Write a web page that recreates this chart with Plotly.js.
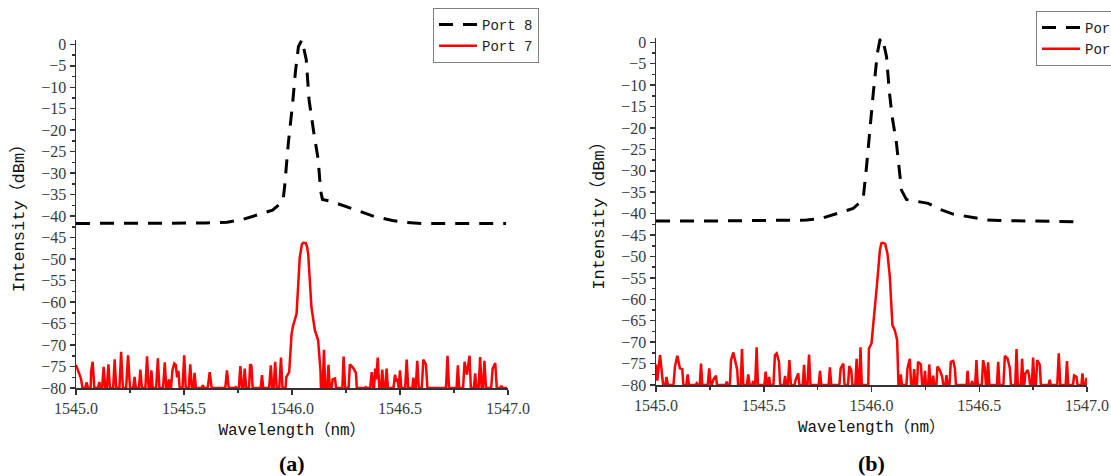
<!DOCTYPE html>
<html>
<head>
<meta charset="utf-8">
<script src="https://cdn.plot.ly/plotly-3.0.1.min.js"></script>
<style>html,body{margin:0;padding:0;background:#fff;overflow:hidden;}#chart{width:1111px;height:476px;}</style>
</head>
<body>
<div id="chart"></div>
<script>
// ---- Data ----
const panelLabels = ['(a)', '(b)'];
const seriesNames = ['Port 8', 'Port 7'];
const xTitle = 'Wavelength（nm）';
const yTitle = 'Intensity（dBm）';

// Panel (a) Port 8 (dashed black)
const port8A_x = [1545.0, 1545.3, 1545.6, 1545.70, 1545.77, 1545.91, 1545.958, 1545.966, 1545.983, 1546.003, 1546.016, 1546.030, 1546.046, 1546.066, 1546.079, 1546.099, 1546.121, 1546.133, 1546.141, 1546.183, 1546.257, 1546.316, 1546.382, 1546.465, 1546.532, 1546.598, 1546.8, 1546.991];
const port8A_y = [-41.7, -41.7, -41.6, -41.4, -40.8, -38.6, -36.6, -33.0, -23.0, -13.7, -6.3, -0.5, 1.0, -3.6, -12.9, -19.9, -26.8, -34.2, -36.1, -36.6, -37.8, -38.9, -40.1, -41.0, -41.5, -41.7, -41.7, -41.7];

// Panel (a) Port 7 (red) as [wavelength, dBm]
const port7A = [
[1545.000,-74.6],[1545.010,-76.0],[1545.023,-77.8],[1545.030,-80],[1545.043,-80],[1545.049,-78.7],[1545.056,-80],
[1545.068,-80],[1545.070,-76.2],[1545.077,-73.9],[1545.085,-80],
[1545.102,-80],[1545.108,-78.6],[1545.114,-80],
[1545.121,-80],[1545.128,-75.1],[1545.135,-80],
[1545.143,-80],[1545.150,-74.5],[1545.157,-80],
[1545.172,-80],[1545.179,-73.3],[1545.186,-80],
[1545.201,-80],[1545.209,-71.6],[1545.217,-80],
[1545.232,-80],[1545.241,-72.4],[1545.250,-80],
[1545.265,-80],[1545.271,-77.4],[1545.277,-80],
[1545.291,-80],[1545.298,-75.7],[1545.305,-80],
[1545.321,-80],[1545.329,-72.6],[1545.336,-80],
[1545.343,-80],[1545.349,-75.9],[1545.355,-80],
[1545.371,-80],[1545.379,-73.1],[1545.386,-80],
[1545.403,-80],[1545.411,-74.0],[1545.418,-80],
[1545.424,-80],[1545.430,-78.0],[1545.436,-80],
[1545.440,-80],[1545.446,-76.0],[1545.455,-74.3],[1545.462,-74.6],[1545.468,-77.5],[1545.474,-76.0],[1545.480,-80],
[1545.493,-80],[1545.501,-72.4],[1545.508,-80],
[1545.522,-80],[1545.529,-74.5],[1545.536,-80],
[1545.543,-80],[1545.549,-76.5],[1545.555,-80],
[1545.581,-80],[1545.587,-79.4],[1545.593,-80],
[1545.610,-80],[1545.619,-76.3],[1545.628,-80],
[1545.691,-80],[1545.699,-75.9],[1545.707,-80],
[1545.734,-80],[1545.739,-79.8],[1545.744,-80],
[1545.754,-80],[1545.761,-74.9],[1545.768,-80],
[1545.775,-80],[1545.781,-75.5],[1545.788,-80],
[1545.801,-80],[1545.806,-74.5],[1545.812,-74.8],[1545.818,-80],
[1545.855,-80],[1545.861,-77.0],[1545.867,-80],
[1545.894,-80],[1545.902,-74.7],[1545.908,-80],
[1545.915,-80],[1545.922,-73.9],[1545.929,-80],
[1545.941,-80],[1545.949,-72.9],[1545.956,-80],
[1545.970,-80],[1545.974,-77.4],[1545.987,-76.3],[1545.998,-67.4],[1546.005,-65.5],[1546.021,-62.8],[1546.036,-49.6],[1546.046,-46.5],[1546.052,-46.2],[1546.064,-46.3],[1546.070,-47.2],[1546.075,-48.8],[1546.090,-61.2],[1546.106,-66.6],[1546.121,-68.9],[1546.132,-76.0],[1546.134,-80],
[1546.142,-80],[1546.148,-71.1],[1546.154,-80],
[1546.163,-80],[1546.169,-74.6],[1546.175,-80],
[1546.183,-80],[1546.188,-78.0],[1546.199,-77.8],[1546.204,-80],
[1546.233,-80],[1546.239,-72.7],[1546.246,-80],
[1546.262,-80],[1546.268,-74.5],[1546.283,-75.3],[1546.296,-76.5],[1546.300,-80],
[1546.337,-80],[1546.342,-79.8],[1546.347,-80],
[1546.362,-80],[1546.369,-76.3],[1546.376,-80],
[1546.380,-80],[1546.385,-75.5],[1546.390,-78.0],[1546.397,-72.9],[1546.404,-80],
[1546.412,-80],[1546.418,-75.7],[1546.424,-80],
[1546.432,-80],[1546.438,-75.5],[1546.444,-80],
[1546.470,-80],[1546.477,-76.9],[1546.483,-78.5],[1546.488,-77.8],[1546.494,-80],[1546.500,-75.9],[1546.506,-80],
[1546.524,-80],[1546.531,-73.4],[1546.538,-80],
[1546.557,-80],[1546.562,-77.6],[1546.567,-80],
[1546.573,-80],[1546.580,-73.7],[1546.587,-80],
[1546.601,-80],[1546.608,-73.4],[1546.620,-74.5],[1546.627,-80],
[1546.713,-80],[1546.720,-72.5],[1546.727,-80],
[1546.762,-80],[1546.768,-74.7],[1546.774,-80],
[1546.792,-80],[1546.799,-73.9],[1546.810,-76.9],[1546.822,-72.5],[1546.828,-80],
[1546.842,-80],[1546.848,-76.6],[1546.854,-80],
[1546.864,-80],[1546.871,-72.8],[1546.878,-80],
[1546.884,-80],[1546.891,-73.7],[1546.898,-80],
[1546.922,-80],[1546.929,-75.5],[1546.941,-74.2],[1546.948,-80],
[1546.964,-80],[1546.969,-79.5],[1546.974,-80],
[1546.995,-80]
];

// Panel (b) Port 8 (dashed black)
const port8B_x = [1545.0, 1545.3, 1545.699, 1545.761, 1545.915, 1545.961, 1545.977, 1545.993, 1546.008, 1546.027, 1546.039, 1546.051, 1546.070, 1546.082, 1546.096, 1546.116, 1546.128, 1546.139, 1546.162, 1546.263, 1546.317, 1546.379, 1546.472, 1546.538, 1546.596, 1546.8, 1546.982];
const port8B_y = [-41.7, -41.7, -41.5, -41.2, -38.8, -36.7, -29.0, -19.7, -12.0, -2.6, 0.5, 1.0, -3.4, -11.2, -17.4, -23.6, -29.0, -34.5, -36.7, -37.6, -39.0, -40.1, -40.9, -41.5, -41.6, -41.8, -41.9];

// Panel (b) Port 7 (red) as [wavelength, dBm]
const port7B = [
[1545.000,-75.2],[1545.006,-79.0],[1545.012,-76.0],[1545.019,-73.0],[1545.028,-77.5],[1545.033,-80],
[1545.043,-80],[1545.049,-78.1],[1545.055,-80],
[1545.081,-80],[1545.088,-75.7],[1545.099,-73.2],[1545.111,-76.1],[1545.122,-76.3],[1545.127,-80],
[1545.141,-80],[1545.147,-77.5],[1545.153,-80],
[1545.184,-80],[1545.189,-79.6],[1545.194,-80],
[1545.203,-80],[1545.209,-75.0],[1545.215,-80],
[1545.240,-80],[1545.247,-76.1],[1545.254,-80],
[1545.259,-80],[1545.266,-78.8],[1545.278,-77.8],[1545.283,-80],
[1545.323,-80],[1545.328,-79.2],[1545.333,-80],
[1545.343,-80],[1545.348,-74.2],[1545.359,-72.4],[1545.377,-76.5],[1545.381,-80],
[1545.393,-80],[1545.399,-71.6],[1545.405,-80],
[1545.422,-80],[1545.428,-77.5],[1545.434,-80],
[1545.446,-80],[1545.451,-79.1],[1545.456,-80],
[1545.460,-80],[1545.467,-71.2],[1545.473,-80],
[1545.503,-80],[1545.509,-76.9],[1545.515,-80],
[1545.520,-80],[1545.525,-78.1],[1545.530,-80],
[1545.545,-80],[1545.552,-73.0],[1545.560,-72.6],[1545.571,-74.6],[1545.576,-80],
[1545.593,-80],[1545.599,-77.9],[1545.605,-80],
[1545.612,-80],[1545.619,-74.2],[1545.626,-80],
[1545.643,-80],[1545.648,-78.8],[1545.660,-77.3],[1545.665,-80],
[1545.681,-80],[1545.687,-75.3],[1545.693,-80],
[1545.703,-80],[1545.710,-72.9],[1545.717,-80],
[1545.755,-80],[1545.761,-76.7],[1545.767,-80],
[1545.801,-80],[1545.807,-75.9],[1545.813,-80],
[1545.851,-80],[1545.857,-76.1],[1545.869,-75.0],[1545.875,-80],
[1545.891,-80],[1545.897,-75.6],[1545.906,-76.5],[1545.911,-80],
[1545.925,-80],[1545.931,-73.9],[1545.937,-80],
[1545.943,-80],[1545.949,-71.2],[1545.955,-80],
[1545.985,-80],[1545.988,-71.5],[1546.000,-70.3],[1546.016,-62.5],[1546.026,-56.3],[1546.039,-48.5],[1546.046,-46.9],[1546.051,-46.8],[1546.063,-47.0],[1546.074,-49.3],[1546.085,-54.7],[1546.097,-66.0],[1546.108,-67.2],[1546.119,-69.5],[1546.125,-80],
[1546.131,-80],[1546.136,-77.5],[1546.141,-80],
[1546.162,-80],[1546.167,-76.1],[1546.178,-73.9],[1546.184,-80],
[1546.193,-80],[1546.198,-76.3],[1546.203,-80],
[1546.211,-80],[1546.216,-74.6],[1546.229,-75.2],[1546.235,-80],
[1546.243,-80],[1546.248,-76.7],[1546.253,-80],
[1546.263,-80],[1546.268,-75.2],[1546.274,-80],
[1546.281,-80],[1546.286,-77.8],[1546.291,-80],
[1546.301,-80],[1546.306,-75.7],[1546.317,-76.5],[1546.328,-78.1],[1546.333,-80],
[1546.343,-80],[1546.348,-77.7],[1546.353,-80],
[1546.362,-80],[1546.368,-74.6],[1546.379,-74.4],[1546.387,-76.1],[1546.392,-80],
[1546.441,-80],[1546.446,-76.7],[1546.451,-80],
[1546.462,-80],[1546.467,-79.1],[1546.472,-80],
[1546.481,-80],[1546.487,-74.2],[1546.493,-80],
[1546.512,-80],[1546.518,-74.2],[1546.526,-76.1],[1546.531,-80],
[1546.535,-80],[1546.541,-74.7],[1546.547,-80],
[1546.582,-80],[1546.588,-74.6],[1546.594,-80],
[1546.612,-80],[1546.619,-73.2],[1546.631,-73.8],[1546.642,-76.1],[1546.647,-80],
[1546.667,-80],[1546.673,-71.6],[1546.679,-80],
[1546.693,-80],[1546.699,-73.9],[1546.705,-80],
[1546.709,-80],[1546.714,-77.3],[1546.725,-76.5],[1546.731,-77.7],[1546.736,-80],
[1546.744,-80],[1546.750,-73.6],[1546.756,-80],
[1546.763,-80],[1546.769,-74.2],[1546.781,-75.3],[1546.786,-80],
[1546.822,-80],[1546.827,-78.8],[1546.832,-80],
[1546.862,-80],[1546.869,-72.6],[1546.876,-80],
[1546.901,-80],[1546.907,-74.4],[1546.913,-80],
[1546.935,-80],[1546.940,-77.8],[1546.951,-78.1],[1546.956,-80],
[1546.974,-80],[1546.979,-77.3],[1546.984,-80],
[1546.993,-80],[1546.998,-78.3]
];

// ---- Styling ----
const W = 1111, H = 476;
const serif = "'Liberation Serif', 'Noto Sans CJK SC', serif";
const mono = "'Liberation Mono', 'Noto Sans CJK SC', monospace";
const axisColor = '#333333';
const textColor = '#3a3a3a';

function xAxis(domain, anchor) {
  return {
    domain: domain, anchor: anchor, range: [1545, 1547], tick0: 1545, dtick: 0.5, tickformat: '.1f',
    ticks: 'outside', ticklen: 5, tickwidth: 1.5, tickcolor: axisColor,
    minor: {dtick: 0.25, ticks: 'outside', ticklen: 3, tickwidth: 1.5, tickcolor: axisColor, showgrid: false},
    showline: true, linecolor: axisColor, linewidth: 1.5, showgrid: false, zeroline: false,
    tickfont: {family: serif, size: 16, color: textColor},
    title: {text: xTitle, font: {family: mono, size: 16, color: '#111'}, standoff: 8},
    automargin: false, fixedrange: true
  };
}
function yAxis(domain, anchor) {
  return {
    domain: domain, anchor: anchor, range: [-80, 1], tick0: 0, dtick: 5,
    ticks: 'outside', ticklen: 5, tickwidth: 1.5, tickcolor: axisColor,
    minor: {dtick: 2.5, ticks: 'outside', ticklen: 3, tickwidth: 1.5, tickcolor: axisColor, showgrid: false},
    showline: true, linecolor: axisColor, linewidth: 1.5, showgrid: false, zeroline: false,
    tickfont: {family: serif, size: 16, color: textColor},
    title: {text: yTitle, font: {family: mono, size: 17, color: '#111'}, standoff: 12},
    automargin: false, fixedrange: true
  };
}

const blackLine = {color: '#000000', width: 3, dash: '14px,10px'};
const redLine = {color: '#ff0000', width: 2.5};

const traces = [
  {x: port8A_x, y: port8A_y, name: seriesNames[0], mode: 'lines', line: blackLine, xaxis: 'x', yaxis: 'y', legend: 'legend'},
  {x: port7A.map(p => p[0]), y: port7A.map(p => p[1]), name: seriesNames[1], mode: 'lines', line: redLine, xaxis: 'x', yaxis: 'y', legend: 'legend'},
  {x: port8B_x, y: port8B_y, name: seriesNames[0], mode: 'lines', line: blackLine, xaxis: 'x2', yaxis: 'y2', legend: 'legend2'},
  {x: port7B.map(p => p[0]), y: port7B.map(p => p[1]), name: seriesNames[1], mode: 'lines', line: redLine, xaxis: 'x2', yaxis: 'y2', legend: 'legend2'}
];

const legendStyle = {
  xanchor: 'left', yanchor: 'top', bgcolor: '#ffffff', bordercolor: '#808080', borderwidth: 1,
  font: {family: mono, size: 14, color: '#222'}, tracegroupgap: 0, itemwidth: 38
};

const layout = {
  width: W, height: H,
  margin: {l: 0, r: 0, t: 0, b: 0, autoexpand: false},
  paper_bgcolor: '#ffffff', plot_bgcolor: '#ffffff',
  showlegend: true,
  xaxis: xAxis([76 / W, 508 / W], 'y'),
  yaxis: yAxis([88 / H, 436 / H], 'x'),
  xaxis2: xAxis([656 / W, 1087 / W], 'y2'),
  yaxis2: yAxis([91 / H, 438 / H], 'x2'),
  legend: Object.assign({x: 433 / W, y: 1 - 8 / H}, legendStyle),
  legend2: Object.assign({x: 1036 / W, y: 1 - 11 / H}, legendStyle),
  annotations: [
    {text: '<b>' + panelLabels[0] + '</b>', xref: 'paper', yref: 'paper', x: 292 / W, y: 1 - 463 / H, showarrow: false, xanchor: 'center', yanchor: 'middle', font: {family: serif, size: 22, color: '#000'}},
    {text: '<b>' + panelLabels[1] + '</b>', xref: 'paper', yref: 'paper', x: 871 / W, y: 1 - 463 / H, showarrow: false, xanchor: 'center', yanchor: 'middle', font: {family: serif, size: 22, color: '#000'}}
  ]
};

Plotly.newPlot('chart', traces, layout, {staticPlot: true, displayModeBar: false});
</script>
</body>
</html>
